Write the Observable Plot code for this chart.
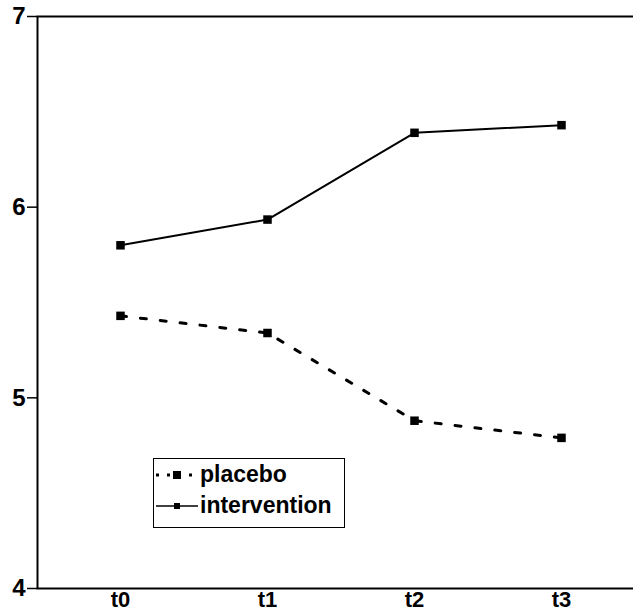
<!DOCTYPE html>
<html>
<head>
<meta charset="utf-8">
<script src="https://cdn.jsdelivr.net/npm/d3@7"></script>
<script src="https://cdn.jsdelivr.net/npm/@observablehq/plot@0.6"></script>
<style>
  body { margin: 0; background: #fff; }
  #wrap { position: relative; width: 633px; height: 614px; font-family: "Liberation Sans", Arial, sans-serif; }
  #legend { position: absolute; left: 153px; top: 458px; width: 192px; height: 70px; border: 1.5px solid #000; box-sizing: border-box; background: #fff; font-weight: bold; font-size: 23px; }
  .row { display: flex; align-items: center; height: 31px; }
  .row svg { margin-left: 2px; margin-right: 2px; }
</style>
</head>
<body>
<div id="wrap"></div>
<script>
const times = ["t0", "t1", "t2", "t3"];
const placebo = [5.43, 5.34, 4.88, 4.79];
const intervention = [5.80, 5.935, 6.39, 6.43];
const yTicks = [4, 5, 6, 7];
const seriesNames = ["placebo", "intervention"];

const rows = [];
times.forEach((t, i) => {
  rows.push({time: t, value: placebo[i], group: seriesNames[0]});
  rows.push({time: t, value: intervention[i], group: seriesNames[1]});
});
const pl = rows.filter(d => d.group === "placebo");
const iv = rows.filter(d => d.group === "intervention");

const chart = Plot.plot({
  width: 633,
  height: 614,
  marginTop: 16,
  marginBottom: 26,
  marginLeft: 37,
  marginRight: 0,
  style: {fontFamily: "Liberation Sans, Arial, sans-serif", fontSize: "24px", fontWeight: "bold", color: "#000", background: "#fff"},
  x: {type: "point", domain: times, range: [119, 562], padding: 0, label: null},
  y: {domain: [4, 7], label: null},
  marks: [
    Plot.frame({stroke: "#000", strokeWidth: 2, insetRight: -6}),
    Plot.axisY({ticks: yTicks, tickSize: 10, tickPadding: 2, tickFormat: d => String(d), label: null, strokeWidth: 1.5}),
    Plot.axisX({tickSize: 0, tickPadding: 3, fontSize: 22, label: null}),
    Plot.line(pl, {x: "time", y: "value", stroke: "#000", strokeWidth: 3, strokeDasharray: "6,14"}),
    Plot.line(iv, {x: "time", y: "value", stroke: "#000", strokeWidth: 2}),
    Plot.dot(rows, {x: "time", y: "value", symbol: "square", r: 4.8, fill: "#000", stroke: "none"})
  ]
});
const wrap = document.getElementById("wrap");
wrap.appendChild(chart);

const legend = document.createElement("div");
legend.id = "legend";
legend.innerHTML = `
  <div class="row"><svg width="42" height="12"><line x1="0" y1="6" x2="42" y2="6" stroke="#000" stroke-width="3" stroke-dasharray="3,8"/><rect x="17" y="2" width="8" height="8" fill="#000"/></svg><span>${seriesNames[0]}</span></div>
  <div class="row"><svg width="42" height="12"><line x1="0" y1="6" x2="42" y2="6" stroke="#000" stroke-width="1.5"/><rect x="18" y="3" width="6" height="6" fill="#000"/></svg><span>${seriesNames[1]}</span></div>`;
wrap.appendChild(legend);
</script>
</body>
</html>
